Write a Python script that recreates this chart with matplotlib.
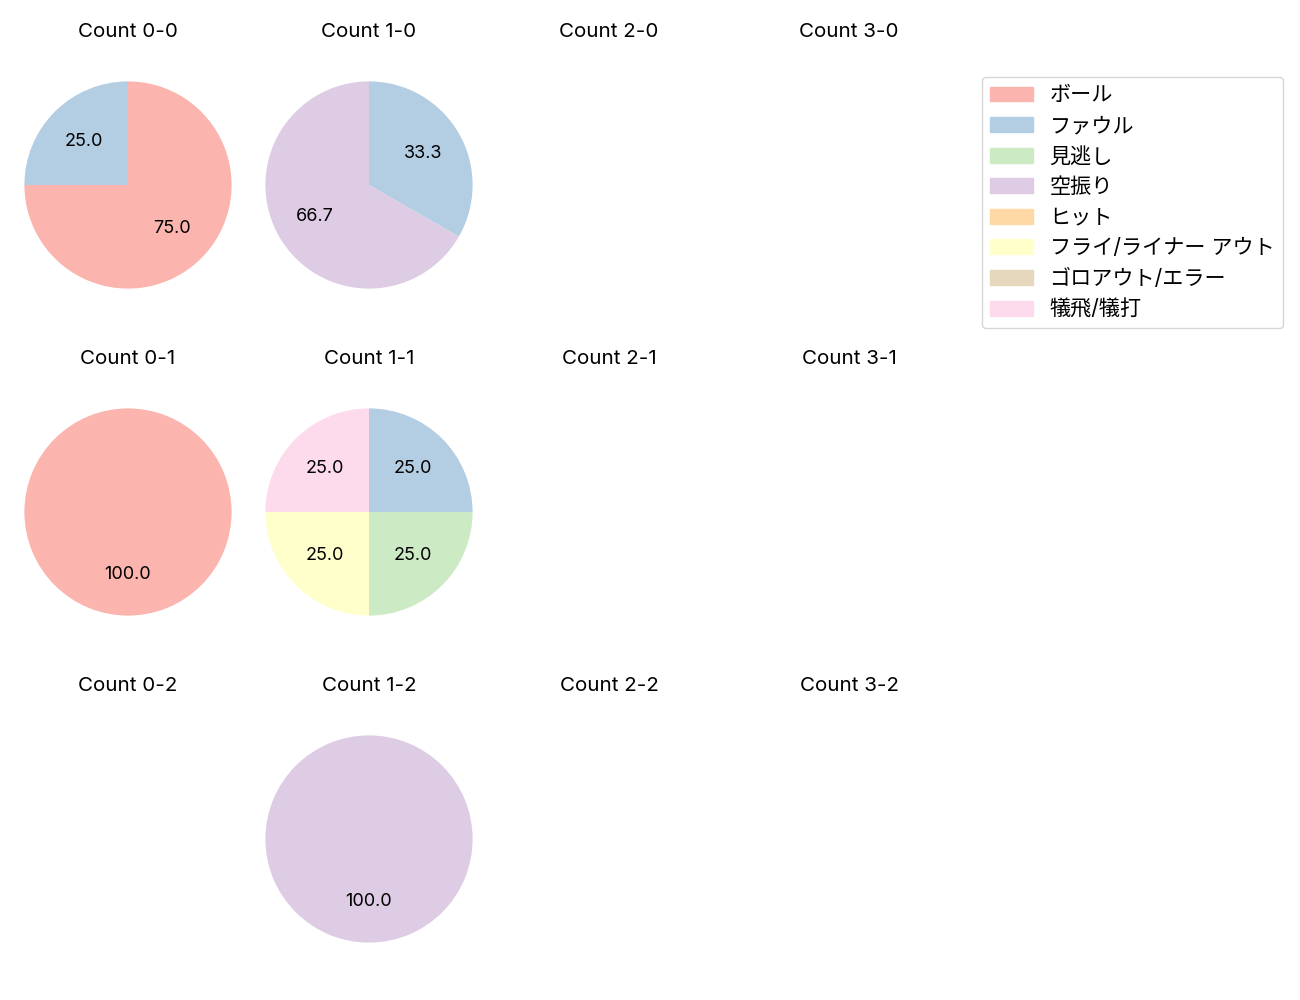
import matplotlib
matplotlib.use("Agg")
import matplotlib.pyplot as plt

plt.rcParams['font.family'] = ['Inter', 'Noto Sans CJK JP', 'DejaVu Sans']

# result categories (legend order) and their Pastel1 colours
categories = ['ボール', 'ファウル', '見逃し', '空振り', 'ヒット',
              'フライ/ライナー アウト', 'ゴロアウト/エラー', '犠飛/犠打']
colors = plt.cm.Pastel1.colors[:8]

balls = [0, 1, 2, 3]
strikes = [0, 1, 2]

# percentage per count, in category order (missing = no pitches)
counts = {
    (0, 0): [75.0, 25.0, 0, 0, 0, 0, 0, 0],
    (1, 0): [0, 33.3, 0, 66.7, 0, 0, 0, 0],
    (0, 1): [100.0, 0, 0, 0, 0, 0, 0, 0],
    (1, 1): [0, 25.0, 25.0, 0, 0, 25.0, 0, 25.0],
    (1, 2): [0, 0, 0, 100.0, 0, 0, 0, 0],
}

W, H = 1300, 1000
fig = plt.figure(figsize=(13, 10), dpi=100)

# cell centres in pixels, square axes of side `side`
col_x = [128, 369, 609, 849]
row_y = [185, 512, 839]
side = 259

for s in strikes:
    for b in balls:
        cx, cy = col_x[b], row_y[s]
        ax = fig.add_axes([(cx - side / 2) / W, 1 - (cy + side / 2) / H,
                           side / W, side / H])
        ax.set_title(f'Count {b}-{s}', fontsize=14.8, pad=13.5)
        ax.axis('off')
        ax.set_xlim(-1.25, 1.25)
        ax.set_ylim(-1.25, 1.25)
        vals = counts.get((b, s))
        if vals is None:
            continue
        idx = [i for i, v in enumerate(vals) if v > 0]
        ax.pie([vals[i] for i in idx], colors=[colors[i] for i in idx],
               autopct='%.1f', startangle=90, counterclock=False,
               textprops={'fontsize': 13})

handles = [plt.Rectangle((0, 0), 1, 1, color=c) for c in colors]
fig.legend(handles, categories, loc='upper left',
           bbox_to_anchor=(982 / W, 1 - 77 / H), borderaxespad=0,
           fontsize=15.2)

fig.savefig('out.png')
